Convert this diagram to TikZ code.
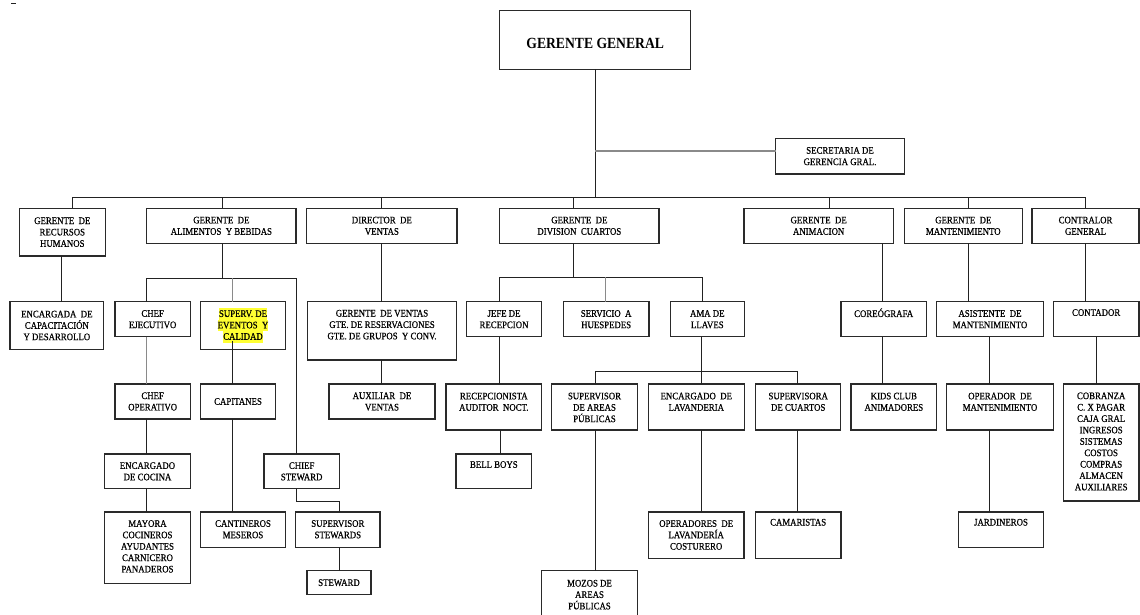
\documentclass[tikz,border=0pt]{standalone}
\usepackage{fontspec}
\setmainfont{Liberation Serif}[FakeStretch=0.88,FakeBold=0.6]
\newfontfamily\titlefont{Liberation Serif}[FakeStretch=0.88]
\usetikzlibrary{calc}
\definecolor{lnc}{HTML}{222222}
\definecolor{bdc}{HTML}{2a2a2a}
\definecolor{glc}{HTML}{8a8a8a}
\definecolor{hly}{HTML}{FFFF33}
\newcommand\hlt[1]{{\setlength{\fboxsep}{0pt}\colorbox{hly}{\rule[-2.8pt]{0pt}{11.3pt}#1}}}
\tikzset{
 box/.style={draw=bdc, line width=1.3pt, rectangle, inner sep=0pt, outer sep=0pt, font=\fontsize{10}{11.4}\selectfont, align=center},
 txt/.style={inner sep=0pt, font=\fontsize{10}{11.4}\selectfont, align=center, anchor=north},
 ln/.style={draw=lnc, line width=1pt},
 gln/.style={draw=glc, line width=1pt},
}
\newcommand\bx[6]{\node[box, minimum width={(#4-#2)*1pt}, minimum height={(#5-#3)*1pt}] (#1) at ({(#2+#4)/2},{(#3+#5)/2}) {#6};}
\newcommand\bxt[7]{\node[box, minimum width={(#4-#2)*1pt}, minimum height={(#5-#3)*1pt}] (#1) at ({(#2+#4)/2},{(#3+#5)/2}) {};
 \node[txt] (#1-t) at ($(#1.north)+(0,#6)$) {#7};}
\begin{document}
\begin{tikzpicture}[x=1pt,y=-1pt]
\useasboundingbox (0,0) rectangle (1140,614);
\fill[white] (0,0) rectangle (1140,614);
\clip (0,0) rectangle (1140,614);
\draw[lnc, line width=1pt] (11,3.5) -- (16,3.5);
% top
\bx{gg}{499.7}{10.3}{690.7}{69.3}{}
\node[font=\titlefont\bfseries\fontsize{15.5}{18}\selectfont, inner sep=0pt] (gg-t) at ($(gg.center)+(0,4)$) {GERENTE GENERAL};
\bx{sec}{775.7}{138.3}{904.3}{174}{SECRETARIA DE\\GERENCIA GRAL.}
% level 1
\bx{rh}{19.3}{208.3}{105.3}{256}{GERENTE\ \ DE\\RECURSOS\\HUMANOS}
\bx{ayb}{146.7}{208.3}{296}{243.3}{GERENTE\ \ DE\\ALIMENTOS\ \ Y BEBIDAS}
\bx{dv}{306.7}{208.3}{457}{243.3}{DIRECTOR\ \ DE\\VENTAS}
\bx{gdc}{499.7}{208.3}{659}{243.3}{GERENTE\ \ DE\\DIVISION\ \ CUARTOS}
\bx{an}{744}{208.3}{893.3}{243.3}{GERENTE\ \ DE\\ANIMACION}
\bx{mt}{904.3}{208.3}{1022.3}{243.3}{GERENTE\ \ DE\\MANTENIMIENTO}
\bx{cg}{1032}{208.3}{1139}{243.3}{CONTRALOR\\GENERAL}
% level 2
\bx{enc}{10}{301.7}{103.7}{349.3}{ENCARGADA\ \ DE\\CAPACITACIÓN\\Y DESARROLLO}
\bx{ce}{115}{301.7}{190.3}{336.7}{CHEF\\EJECUTIVO}
\bx{sev}{200.3}{301.7}{285.7}{349.3}{\hlt{SUPERV. DE}\\\hlt{EVENTOS\ \ Y}\\\hlt{CALIDAD}}
\bxt{gv}{307.3}{301.7}{456.7}{360}{8}{GERENTE\ \ DE VENTAS\\GTE. DE RESERVACIONES\\GTE. DE GRUPOS\ \ Y CONV.}
\bx{jr}{466.3}{301.7}{541.7}{336.7}{JEFE DE\\RECEPCION}
\bx{sh}{563.3}{301.7}{649}{336.7}{SERVICIO\ \ A\\HUESPEDES}
\bx{al}{670.3}{301.7}{744.3}{336.7}{AMA DE\\LLAVES}
\bxt{cor}{841}{301.7}{926.3}{336.7}{6.5}{COREÓGRAFA}
\bx{am}{936.3}{301.7}{1043.7}{336.7}{ASISTENTE\ \ DE\\MANTENIMIENTO}
\bxt{con}{1053.3}{301.7}{1139}{336.7}{7.3}{CONTADOR}
% level 3
\bx{co}{115}{384}{190.3}{419}{CHEF\\OPERATIVO}
\bx{cap}{200.3}{384}{275.7}{419}{CAPITANES}
\bx{aux}{329}{384}{435}{419}{AUXILIAR\ \ DE\\VENTAS}
\bxt{rec}{446}{384}{541.7}{430}{8.5}{RECEPCIONISTA\\AUDITOR\ \ NOCT.}
\bxt{sap}{551.7}{384}{637.3}{430}{8.5}{SUPERVISOR\\DE AREAS\\PÚBLICAS}
\bxt{el}{648.3}{384}{744.3}{430}{8.5}{ENCARGADO\ \ DE\\LAVANDERIA}
\bxt{sc}{755.7}{384}{840.7}{430}{8.5}{SUPERVISORA\\DE CUARTOS}
\bxt{kc}{851}{384}{936.7}{430}{8.5}{KIDS CLUB\\ANIMADORES}
\bxt{om}{946.3}{384}{1053.7}{430}{8.5}{OPERADOR\ \ DE\\MANTENIMIENTO}
\bxt{cob}{1063.3}{384}{1139}{501}{8.3}{COBRANZA\\C. X PAGAR\\CAJA GRAL\\INGRESOS\\SISTEMAS\\COSTOS\\COMPRAS\\ALMACEN\\AUXILIARES}
% level 4
\bx{ec}{104.7}{454}{190.3}{488.7}{ENCARGADO\\DE COCINA}
\bx{cs}{264}{454}{339.3}{488.7}{CHIEF\\STEWARD}
\bxt{bb}{456}{454}{531.7}{488.7}{7}{BELL BOYS}
% level 5
\bxt{may}{104.7}{512}{190.3}{583.7}{8}{MAYORA\\COCINEROS\\AYUDANTES\\CARNICERO\\PANADEROS}
\bxt{cm}{200.3}{512}{285.7}{547.3}{8}{CANTINEROS\\MESEROS}
\bxt{ss}{295.7}{512}{380}{547.3}{8}{SUPERVISOR\\STEWARDS}
\bxt{ol}{648.3}{512}{744}{558.3}{8}{OPERADORES\ \ DE\\LAVANDERÍA\\COSTURERO}
\bxt{cam}{755.3}{512}{841}{558.3}{6.7}{CAMARISTAS}
\bxt{jar}{958.3}{512}{1043.7}{547.3}{6.7}{JARDINEROS}
\bx{st}{307}{570.7}{371}{594.7}{STEWARD}
\bxt{moz}{541.7}{570.7}{637.3}{626}{9}{MOZOS DE\\AREAS\\PÚBLICAS}
% connectors: top
\coordinate (b-rh) at (72,197);
\coordinate (b-ayb) at (222,197);
\coordinate (b-dv) at (381,197);
\coordinate (b-gdc) at (573.3,197);
\coordinate (b-an) at (829.3,197);
\coordinate (b-mt) at (968.3,197);
\coordinate (b-cg) at (1085,197);
\coordinate (s-j) at (595.2,150.7);
\draw[ln] (b-rh) -- (b-cg);
\draw[ln] (gg.south) -- (gg.south |- b-rh);
\draw[glc, line width=1.7pt] (s-j) -- (s-j -| sec.west);
\foreach \c/\n in {rh/rh, ayb/ayb, dv/dv, gdc/gdc, an/an, mt/mt, cg/cg}
  \draw[ln] (b-\c) -- (b-\c |- \n.north);
% RH
\coordinate (x-rh) at (61,0);
\draw[ln] (rh.south -| x-rh) -- (enc.north -| x-rh);
% A y B
\coordinate (ab-j) at (222,278);
\coordinate (ab-l) at (146.7,278);
\coordinate (ab-m) at (232.3,278);
\coordinate (ab-r) at (296,278);
\coordinate (sev-in) at (232.3,341);
\coordinate (cs-k) at (339.3,501.3);
\draw[ln] (ayb.south -| ab-j) -- (ab-j);
\draw[ln] (ab-l) -- (ab-r);
\draw[ln] (ab-l) -- (ab-l |- ce.north);
\draw[gln] (ab-m) -- (ab-m |- sev.north);
\draw[ln] (ab-r) -- (ab-r |- cs.north);
\draw[gln] (ce.south -| ab-l) -- (co.north -| ab-l);
\draw[ln] (co.south -| ab-l) -- (ec.north -| ab-l);
\draw[ln] (ec.south -| ab-l) -- (may.north -| ab-l);
\draw[ln] (sev-in) -- (cap.north -| sev-in);
\draw[ln] (cap.south -| ab-m) -- (cm.north -| ab-m);
\draw[ln] (cs.south -| ab-r) |- (cs-k) -- (cs-k |- ss.north);
\draw[ln] (ss.south -| cs-k) -- (st.north -| cs-k);
% Ventas
\coordinate (x-dv) at (381,0);
\draw[ln] (dv.south -| x-dv) -- (gv.north -| x-dv);
\draw[ln] (gv.south -| x-dv) -- (aux.north -| x-dv);
% Division cuartos
\coordinate (g-j) at (573.7,277.3);
\coordinate (g-l) at (499.3,277.3);
\coordinate (g-m) at (605.7,277.3);
\coordinate (g-r) at (702.3,277.3);
\draw[ln] (gdc.south -| g-j) -- (g-j);
\draw[ln] (g-l) -- (g-r);
\draw[ln] (g-l) -- (g-l |- jr.north);
\draw[gln] (g-m) -- (g-m |- sh.north);
\draw[ln] (g-r) -- (g-r |- al.north);
\draw[ln] (jr.south -| g-l) -- (rec.north -| g-l);
\coordinate (x-rec) at (500,0);
\draw[ln] (rec.south -| x-rec) -- (bb.north -| x-rec);
\coordinate (a-j) at (701,371.7);
\coordinate (a-l) at (595,371.7);
\coordinate (a-r) at (797.7,371.7);
\draw[ln] (al.south -| a-j) -- (el.north -| a-j);
\draw[ln] (a-l) -- (a-r);
\draw[ln] (a-l) -- (a-l |- sap.north);
\draw[ln] (a-r) -- (a-r |- sc.north);
\draw[ln] (sap.south -| a-l) -- (moz.north -| a-l);
\draw[ln] (el.south -| a-j) -- (ol.north -| a-j);
\draw[ln] (sc.south -| a-r) -- (cam.north -| a-r);
% Animacion
\coordinate (x-an) at (882.7,0);
\draw[ln] (an.south -| x-an) -- (cor.north -| x-an);
\draw[ln] (cor.south -| x-an) -- (kc.north -| x-an);
% Mantenimiento
\coordinate (x-mt) at (968.3,0);
\coordinate (x-mt2) at (989.7,0);
\draw[ln] (mt.south -| x-mt) -- (am.north -| x-mt);
\draw[ln] (am.south -| x-mt2) -- (om.north -| x-mt2);
\draw[ln] (om.south -| x-mt2) -- (jar.north -| x-mt2);
% Contralor
\coordinate (x-cg) at (1085.7,0);
\coordinate (x-cg2) at (1096.7,0);
\draw[ln] (cg.south -| x-cg) -- (con.north -| x-cg);
\draw[ln] (con.south -| x-cg2) -- (cob.north -| x-cg2);
\end{tikzpicture}
\end{document}
